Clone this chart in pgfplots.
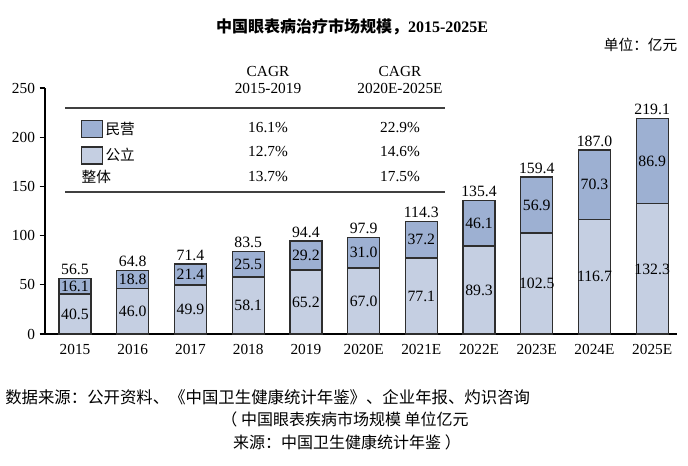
\documentclass[border=0pt]{standalone}
\usepackage{pgfplots}
\pgfplotsset{compat=1.18}
\usepackage{pgfplotstable}
\usepackage{fontspec}
\setmainfont{Liberation Serif}
\newfontfamily\cjk{Noto Sans CJK SC}

\definecolor{pri}{HTML}{9DB0D2}
\definecolor{pub}{HTML}{C5CFE2}
\definecolor{edge}{HTML}{2E2E2E}

\pgfplotsset{/pgf/number format/assume math mode=true}

% 公立 (pub), 民营 (pri), total as printed
\pgfplotstableread{
idx cat pub pri tot
0 2015 40.5 16.1 56.5
1 2016 46.0 18.8 64.8
2 2017 49.9 21.4 71.4
3 2018 58.1 25.5 83.5
4 2019 65.2 29.2 94.4
5 2020E 67.0 31.0 97.9
6 2021E 77.1 37.2 114.3
7 2022E 89.3 46.1 135.4
8 2023E 102.5 56.9 159.4
9 2024E 116.7 70.3 187.0
10 2025E 132.3 86.9 219.1
}\data

\pgfplotsset{
  frame/.style={
    at={(O)}, anchor=south west,
    scale only axis, width=474pt, height=184.5pt,
    xmin=-0.52, xmax=10.43, ymin=0, ymax=250,
    clip=false,
  },
  lbl/.style={
    draw=none, mark=none,
    nodes near coords={\pgfmathprintnumber[fixed,fixed zerofill,precision=1]{\pgfplotspointmeta}},
    point meta=explicit,
    every node near coord/.append style={font=\fontsize{11.8}{13}\selectfont, inner sep=1pt},
  },
}

\begin{document}
\begin{tikzpicture}[x=0.75pt, y=-0.75pt]
\path[use as bounding box] (0,0) rectangle (688,465);
\coordinate (O) at (45,334);

\begin{axis}[frame,
  ybar stacked, bar width=24pt,
  axis x line*=bottom, axis y line*=left,
  axis line style={-, line width=0.8pt, black},
  xtick={0,...,10},
  xticklabels={2015,2016,2017,2018,2019,2020E,2021E,2022E,2023E,2024E,2025E},
  ytick={0,50,...,250},
  major x tick style={draw=none},
  major y tick style={line width=0.8pt, black},
  tick align=outside, major tick length=4pt,
  tick label style={font=\fontsize{11.5}{13}\selectfont},
  legend style={at={(0.05,0.885)}, anchor=north west, draw=none, fill=none,
    font=\cjk\fontsize{11}{13}\selectfont, row sep=5pt},
  legend cell align=left,
  reverse legend,
  legend image code/.code={\draw[#1] (0pt,-6.4pt) rectangle (15.5pt,6.4pt);},
]
\addplot[fill=pub, draw=edge, line width=1pt] table[x=idx, y=pub]{\data};
\addplot[fill=pri, draw=edge, line width=1pt] table[x=idx, y=pri]{\data};
\legend{公立, 民营}
\end{axis}

\begin{axis}[frame, axis lines=none, xtick=\empty, ytick=\empty,
  nodes near coords align=center]
\addplot[lbl] table[x=idx, y expr=\thisrow{pub}/2, meta=pub]{\data};
\addplot[lbl] table[x=idx, y expr=\thisrow{pub}+\thisrow{pri}/2, meta=pri]{\data};
\addplot[lbl, every node near coord/.append style={anchor=south, inner sep=2.5pt}]
  table[x=idx, y expr=\thisrow{pub}+\thisrow{pri}, meta=tot]{\data};
\end{axis}

% title and unit
\node[font=\fontsize{12}{14}\selectfont] at (352,27) {{\cjk\bfseries 中国眼表病治疗市场规模，}{\bfseries 2015-2025E}};
\node[font=\cjk\fontsize{11}{13}\selectfont, anchor=east] at (682,45) {单位：亿元};

% CAGR table
\begin{scope}[font=\fontsize{11.5}{13}\selectfont]
\node[align=center] at (268,80) {CAGR\\2015-2019};
\node[align=center] at (400,80) {CAGR\\2020E-2025E};
\draw[line width=0.8pt, black!75] (65,108) -- (445,108);
\draw[line width=0.8pt, black!75] (65,192) -- (445,192);
\node at (268,128) {16.1\%};
\node at (400,128) {22.9\%};
\node at (268,152) {12.7\%};
\node at (400,152) {14.6\%};
\node at (268,177) {13.7\%};
\node at (400,177) {17.5\%};
\node[font=\cjk\fontsize{11}{13}\selectfont, anchor=west] at (77,177) {整体};
\end{scope}

% sources
\node[font=\cjk\fontsize{12.3}{14}\selectfont, anchor=west, inner sep=0pt] at (5,397)
  {数据来源：公开资料、《中国卫生健康统计年鉴》、企业年报、灼识咨询};
\node[font=\cjk\fontsize{12}{14}\selectfont] at (345,419) {（ 中国眼表疾病市场规模 单位亿元};
\node[font=\cjk\fontsize{12}{14}\selectfont] at (347,442) {来源：中国卫生健康统计年鉴 ）};
\end{tikzpicture}
\end{document}
